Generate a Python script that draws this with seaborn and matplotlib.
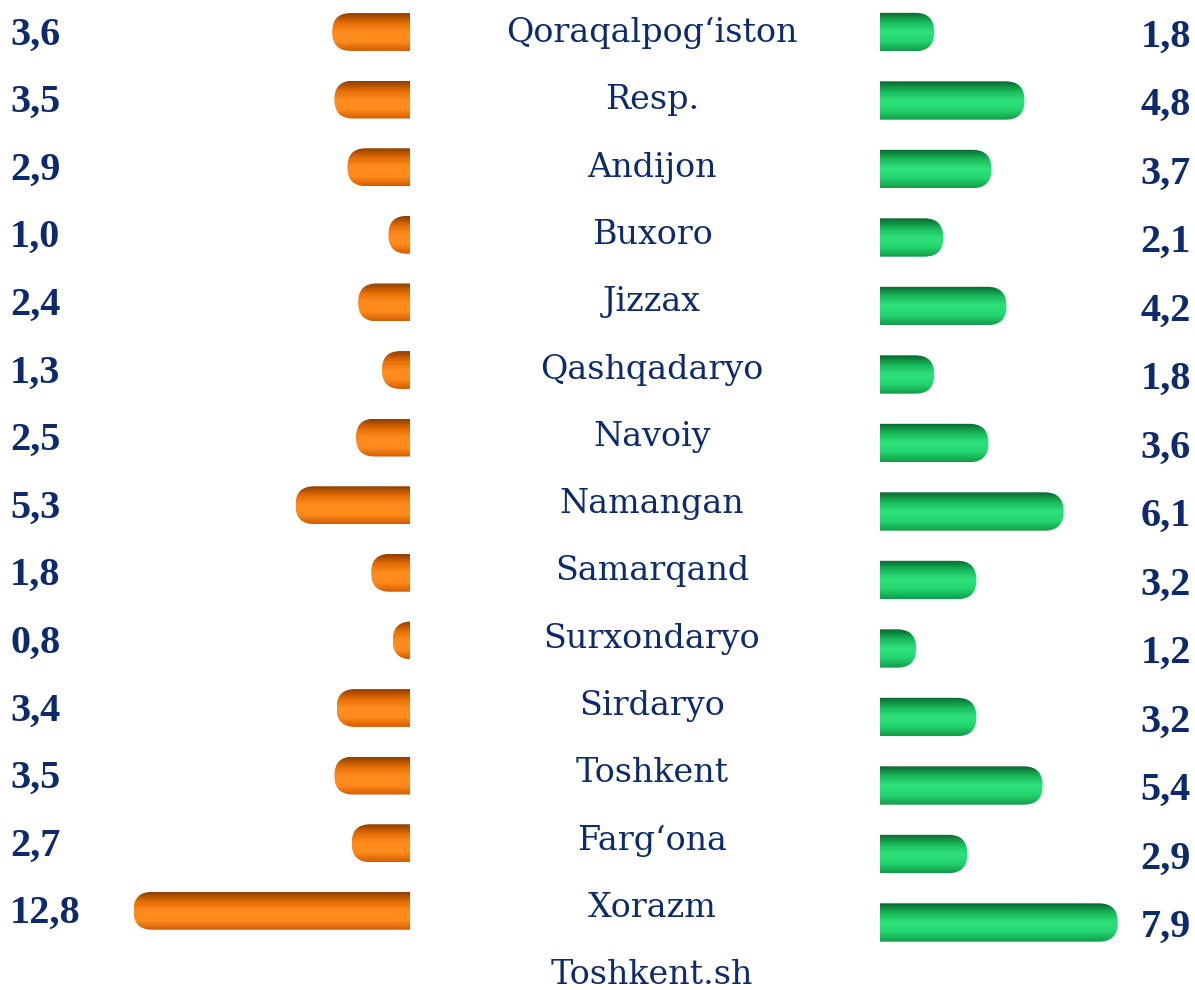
import numpy as np
import pandas as pd
import matplotlib
matplotlib.use('Agg')
import matplotlib.pyplot as plt
import seaborn as sns
from matplotlib.patches import FancyBboxPatch
from matplotlib.colors import LinearSegmentedColormap
from matplotlib.transforms import IdentityTransform, blended_transform_factory

# data
regions = ['Qoraqalpog‘iston Resp.', 'Andijon', 'Buxoro', 'Jizzax', 'Qashqadaryo',
           'Navoiy', 'Namangan', 'Samarqand', 'Surxondaryo', 'Sirdaryo',
           'Toshkent', 'Farg‘ona', 'Xorazm', 'Toshkent.sh']
label_lines = ['Qoraqalpog‘iston', 'Resp.', 'Andijon', 'Buxoro', 'Jizzax', 'Qashqadaryo',
               'Navoiy', 'Namangan', 'Samarqand', 'Surxondaryo', 'Sirdaryo',
               'Toshkent', 'Farg‘ona', 'Xorazm', 'Toshkent.sh']
left_vals = [3.6, 3.5, 2.9, 1.0, 2.4, 1.3, 2.5, 5.3, 1.8, 0.8, 3.4, 3.5, 2.7, 12.8]
right_vals = [1.8, 4.8, 3.7, 2.1, 4.2, 1.8, 3.6, 6.1, 3.2, 1.2, 3.2, 5.4, 2.9, 7.9]

df = pd.DataFrame({'region': regions, 'left': left_vals, 'right': right_vals})

sns.set_style('white')
plt.rcParams['font.family'] = ['DejaVu Serif']

W, H = 1195, 990
navy = '#0d2b6c'
fig = plt.figure(figsize=(W / 100, H / 100), dpi=100)

ax_l = fig.add_axes([0, 0, 410 / W, 1])
ax_r = fig.add_axes([880 / W, 0, 315 / W, 1])

sns.barplot(data=df, x='left', y='region', orient='h', ax=ax_l, color='#ff8c1a', width=0.56)
sns.barplot(data=df, x='right', y='region', orient='h', ax=ax_r, color='#22dd6e', width=0.56)

ax_l.set_xlim(410 / 21.6, 0)
ax_l.set_ylim((H - 32) / 67.6, -32 / 67.6)
ax_r.set_xlim(0, 315 / 30.1)
ax_r.set_ylim((H - 32) / 68.5, -32 / 68.5)

orange = LinearSegmentedColormap.from_list('o', ['#8f3e00', '#e56d05', '#ff8c1f', '#ff8a1c', '#d45e00'])
green = LinearSegmentedColormap.from_list('g', ['#0a6630', '#19b85a', '#2ee27b', '#24d56e', '#129c4a'])


def shade(ax, cmap, inner_right):
    grad = np.linspace(0, 1, 64).reshape(-1, 1)
    for p in list(ax.patches):
        x0, y0, w, h = p.get_x(), p.get_y(), p.get_width(), p.get_height()
        p.set_visible(False)
        (ax0, ay0), (ax1, ay1) = ax.transData.transform([(x0, y0), (x0 + w, y0 + h)])
        lft, rgt = sorted([ax0, ax1])
        bot, top = sorted([ay0, ay1])
        r = (top - bot) / 2
        if inner_right:
            rgt += 3 * r
        else:
            lft -= 3 * r
        clip = FancyBboxPatch((lft, bot), rgt - lft, top - bot,
                              boxstyle=f'round,pad=0,rounding_size={r * 0.98}',
                              transform=IdentityTransform(), facecolor='none', edgecolor='none')
        im = ax.imshow(grad, cmap=cmap, extent=(x0, x0 + w, y0 + h, y0),
                       aspect='auto', interpolation='bilinear')
        im.set_clip_path(clip)


for ax in (ax_l, ax_r):
    ax.set_autoscale_on(False)

shade(ax_l, orange, True)
shade(ax_r, green, False)


def fmt(v):
    return f'{v:.1f}'.replace('.', ',')


num_font = dict(family=['Liberation Serif', 'DejaVu Serif'], fontsize=29,
                fontweight='bold', color=navy)

tl = blended_transform_factory(ax_l.transAxes, ax_l.transData)
for i, v in enumerate(left_vals):
    ax_l.text(10 / 410, i + 3 / 67.6, fmt(v), transform=tl, ha='left', va='center', **num_font)

tr = blended_transform_factory(ax_r.transAxes, ax_r.transData)
for i, v in enumerate(right_vals):
    ax_r.text(311 / 315, i + 5 / 68.5, fmt(v), transform=tr, ha='right', va='center', **num_font)

for k, line in enumerate(label_lines):
    fig.text(652 / W, 1 - (33 + k * 67.3) / H, line, ha='center', va='center',
             fontsize=24, color=navy)

for ax in (ax_l, ax_r):
    ax.axis('off')

fig.savefig('out.png', dpi=100)
